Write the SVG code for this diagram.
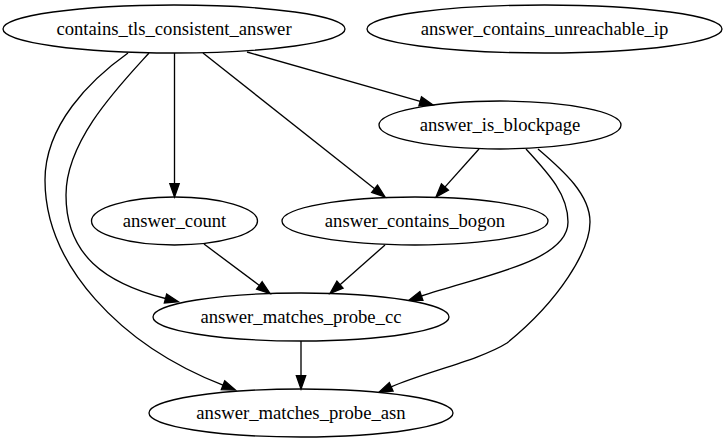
<svg xmlns="http://www.w3.org/2000/svg" width="728" height="443" viewBox="0 0 728 443">
<style>
  .node ellipse { fill: none; stroke: #000; stroke-width: 1.33; }
  .node text { font-family: "Liberation Serif", "Times New Roman", serif; font-size: 18.67px; fill: #000; text-anchor: middle; }
  .edges path { fill: none; stroke: #000; stroke-width: 1.33; marker-end: url(#arrow); }
</style>
<defs>
  <marker id="arrow" markerUnits="userSpaceOnUse" markerWidth="16" markerHeight="12" refX="0.5" refY="6" orient="auto" overflow="visible">
    <path d="M0.5,1.33 L13.8,6 L0.5,10.67 Z" fill="#000" stroke="#000" stroke-width="1.33"/>
  </marker>
</defs>
<rect width="728" height="443" fill="#fff"/>
<g id="edges" class="edges">
  <path d="M174.5,53 L174.5,183.7"/>
  <path d="M247,52 L420.2,101.4"/>
  <path d="M203,53 L374.6,188.7"/>
  <path d="M479,149 L444.9,187.1"/>
  <path d="M204,244 L259.4,285.5"/>
  <path d="M385,245 L340,284.7"/>
  <path d="M301,341 L301,375.7"/>
  <path d="M149,53 C120,85 66,140 66,195 C66,255 105,283 165.5,298.5"/>
  <path d="M128,53 C90,80 45,125 45,180 C45,265 120,345 223,385.2"/>
  <path d="M526,149 C550,175 568,195 568,222 C568,262 480,276 421.4,296"/>
  <path d="M538,149 C565,172 590,195 590,222 C590,250 560,300 507,343 C480,360 425,372 391.2,386.8"/>
</g>
<g id="contains_tls_consistent_answer" class="node">
  <ellipse cx="174" cy="29" rx="171" ry="24"/>
  <text x="174" y="35.3">contains_tls_consistent_answer</text>
</g>
<g id="answer_contains_unreachable_ip" class="node">
  <ellipse cx="544.5" cy="29" rx="177.5" ry="24"/>
  <text x="544.5" y="35.3">answer_contains_unreachable_ip</text>
</g>
<g id="answer_is_blockpage" class="node">
  <ellipse cx="500" cy="125" rx="121" ry="24"/>
  <text x="500" y="131.3">answer_is_blockpage</text>
</g>
<g id="answer_count" class="node">
  <ellipse cx="174.5" cy="221" rx="83" ry="24"/>
  <text x="174.5" y="227.3">answer_count</text>
</g>
<g id="answer_contains_bogon" class="node">
  <ellipse cx="415" cy="221" rx="133" ry="24"/>
  <text x="415" y="227.3">answer_contains_bogon</text>
</g>
<g id="answer_matches_probe_cc" class="node">
  <ellipse cx="301" cy="317" rx="148" ry="24"/>
  <text x="301" y="323.3">answer_matches_probe_cc</text>
</g>
<g id="answer_matches_probe_asn" class="node">
  <ellipse cx="301" cy="413" rx="152" ry="24"/>
  <text x="301" y="419.3">answer_matches_probe_asn</text>
</g>
</svg>
